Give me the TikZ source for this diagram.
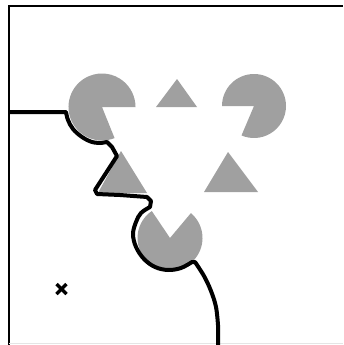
\documentclass[tikz,border=0pt]{standalone}
\definecolor{kgray}{RGB}{160,160,160}
\begin{document}
\begin{tikzpicture}[x=1pt,y=-1pt,
  piece/.style={fill=kgray,draw=none},
  contour/.style={line width=4pt,line join=round,line cap=butt},
  frameline/.style={line width=2pt},
  crossline/.style={line width=3.4pt}]
\useasboundingbox (0,0) rectangle (343,345);
\fill[white] (0,0) rectangle (343,345);
% frame
\draw[frameline] (9,345) -- (9,6) -- (343,6);
\draw[gray!20, line width=0.8pt] (9,343.5) -- (343,343.5);
% pacmen
\fill[piece] (102,107) -- ++(68:33.5) arc[start angle=68,end angle=360,radius=33.5] -- cycle;
\fill[piece] (254,106) -- ++(180:32) arc[start angle=180,end angle=473,radius=32] -- cycle;
\fill[piece] (170,238) -- ++(310:32.5) arc[start angle=310,end angle=596,radius=32.5] -- cycle;
% triangle corners
\fill[piece] (177,79) -- (156,107) -- (197,107) -- cycle;
\fill[piece] (121,151) -- (98,193) -- (147,193) -- cycle;
\fill[piece] (228,152) -- (204,192) -- (258,192) -- cycle;
% contour
\draw[contour] (9,112) -- (66,112)
  -- plot[smooth,tension=0.6] coordinates {(66,112) (68,120) (73,129) (82,137) (92,142) (101,143)}
  -- (107,142) -- (112,147) -- (117,156) -- (95,190) -- (97,194) -- (120,195) -- (147,197)
  -- (151,201) -- (150,207)
  -- plot[smooth,tension=0.6] coordinates {(150,207) (141,213) (136,222) (133,234) (136,247) (144,259) (155,267) (168,270) (181,268) (192,262)}
  -- (195,262)
  -- plot[smooth,tension=0.6] coordinates {(195,262) (204,276) (211,291) (216,307) (218,325)}
  -- (218,345);
% cross
\draw[crossline] (56.5,284) -- (66.5,294);
\draw[crossline] (56.5,294) -- (66.5,284);
\end{tikzpicture}
\end{document}
